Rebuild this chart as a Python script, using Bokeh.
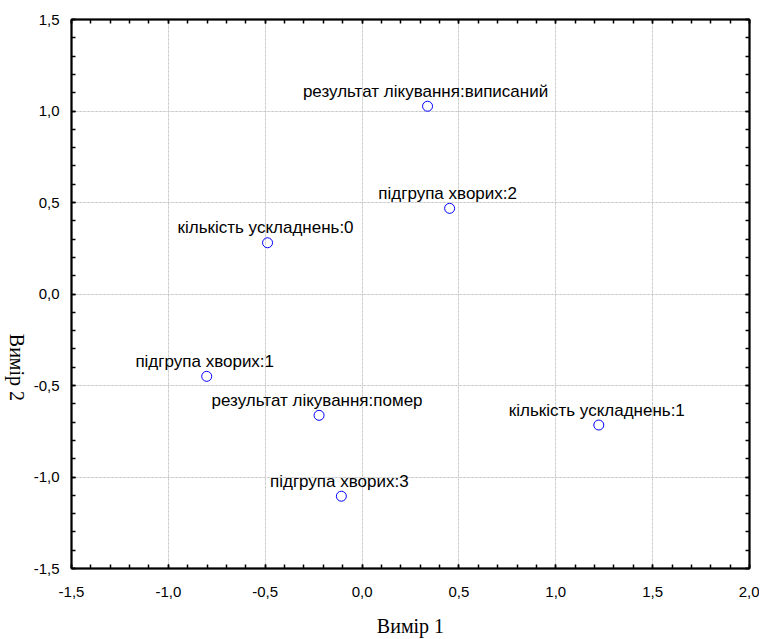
import math
from bokeh.plotting import figure
from bokeh.layouts import row
from bokeh.models import ColumnDataSource, FixedTicker, LinearAxis, Range1d, Grid
from bokeh.embed import file_html
from bokeh.resources import INLINE
from bokeh.core.properties import value

# ---- data ----
labels = [
    "результат лікування:виписаний",
    "підгрупа хворих:2",
    "кількість ускладнень:0",
    "підгрупа хворих:1",
    "результат лікування:помер",
    "кількість ускладнень:1",
    "підгрупа хворих:3",
]
dim1 = [0.338, 0.452, -0.488, -0.802, -0.222, 1.222, -0.107]
dim2 = [1.026, 0.468, 0.280, -0.450, -0.663, -0.716, -1.105]

x_ticks = [-1.5, -1.0, -0.5, 0.0, 0.5, 1.0, 1.5, 2.0]
x_tick_labels = ["-1,5", "-1,0", "-0,5", "0,0", "0,5", "1,0", "1,5", "2,0"]
y_ticks = [-1.5, -1.0, -0.5, 0.0, 0.5, 1.0, 1.5]
y_tick_labels = ["-1,5", "-1,0", "-0,5", "0,0", "0,5", "1,0", "1,5"]
x_minor = [round(-1.5 + 0.1 * i, 1) for i in range(36)]
y_minor = [round(-1.5 + 0.1 * i, 1) for i in range(31)]

x_title = "Вимір 1"
y_title = "Вимір 2"

src = ColumnDataSource(dict(x=dim1, y=dim2, label=labels))

H = 639
LEFT_W = 30

p = figure(width=759 - LEFT_W, height=H, output_backend="svg", toolbar_location=None,
           x_range=Range1d(-1.5, 2.0), y_range=Range1d(-1.5, 1.5),
           x_axis_location=None, y_axis_location=None,
           min_border_left=66 - LEFT_W, min_border_right=10, min_border_top=19,
           min_border_bottom=71)
p.background_fill_color = "white"
p.border_fill_color = "white"
p.outline_line_color = "black"
p.outline_line_width = 1.5

def make_axis(ticks, minor, lbls, show_labels):
    ax = LinearAxis(ticker=FixedTicker(ticks=ticks, minor_ticks=minor))
    ax.major_label_overrides = {t: (l if show_labels else "") for t, l in zip(ticks, lbls)}
    ax.axis_line_width = 2
    ax.axis_line_color = "black"
    ax.major_tick_in = 4
    ax.major_tick_out = 0
    ax.minor_tick_in = 4
    ax.minor_tick_out = 0
    ax.major_tick_line_width = 1.5
    ax.minor_tick_line_width = 1.5
    ax.major_tick_line_color = "black"
    ax.minor_tick_line_color = "black"
    ax.major_label_text_font = "Liberation Sans"
    ax.major_label_text_font_size = "15px" if show_labels else "0px"
    ax.major_label_text_color = "black"
    ax.axis_label_text_font = "Liberation Serif"
    ax.axis_label_text_font_size = "20px"
    ax.axis_label_text_font_style = "normal"
    ax.axis_label_text_color = "black"
    return ax

xb = make_axis(x_ticks, x_minor, x_tick_labels, True)
xb.major_label_standoff = 18
xb.axis_label = x_title
xb.axis_label_standoff = 15
yl = make_axis(y_ticks, y_minor, y_tick_labels, True)
yl.major_label_standoff = 12
xt = make_axis(x_ticks, x_minor, x_tick_labels, False)
xt.major_label_standoff = 0
yr = make_axis(y_ticks, y_minor, y_tick_labels, False)
yr.major_label_standoff = 0
p.add_layout(xb, "below")
p.add_layout(yl, "left")
p.add_layout(xt, "above")
p.add_layout(yr, "right")

gx = Grid(dimension=0, ticker=FixedTicker(ticks=x_ticks[1:-1]),
          grid_line_color="#c8c8c8", grid_line_dash="2 2", grid_line_width=1)
gy = Grid(dimension=1, ticker=FixedTicker(ticks=y_ticks[1:-1]),
          grid_line_color="#c8c8c8", grid_line_dash="2 2", grid_line_width=1)
p.add_layout(gx)
p.add_layout(gy)

p.scatter("x", "y", source=src, marker="circle", size=10, fill_color=None,
          line_color="#0000ff", line_width=1)
p.text("x", "y", text="label", source=src, text_align="center",
       text_baseline="middle", y_offset=-15, x_offset=-2,
       text_font=value("Liberation Sans"), text_font_size="17px", text_color="black")

# narrow strip at the left holding the vertical axis title (reads top to bottom)
t = figure(width=LEFT_W, height=H, output_backend="svg", toolbar_location=None,
           x_range=Range1d(0, LEFT_W), y_range=Range1d(H, 0),
           x_axis_location=None, y_axis_location=None,
           min_border=0, min_border_left=0, min_border_right=0,
           min_border_top=0, min_border_bottom=0)
t.outline_line_color = None
t.xgrid.visible = False
t.ygrid.visible = False
t.background_fill_color = "white"
t.border_fill_color = "white"
t.text(x=[16], y=[405], text=[y_title], angle=-math.pi / 2,
       text_align="center", text_baseline="middle",
       text_font=value("Liberation Serif"), text_font_size="20px", text_color="black")

layout = row(t, p)
open("out.html", "w").write(file_html(layout, INLINE))
